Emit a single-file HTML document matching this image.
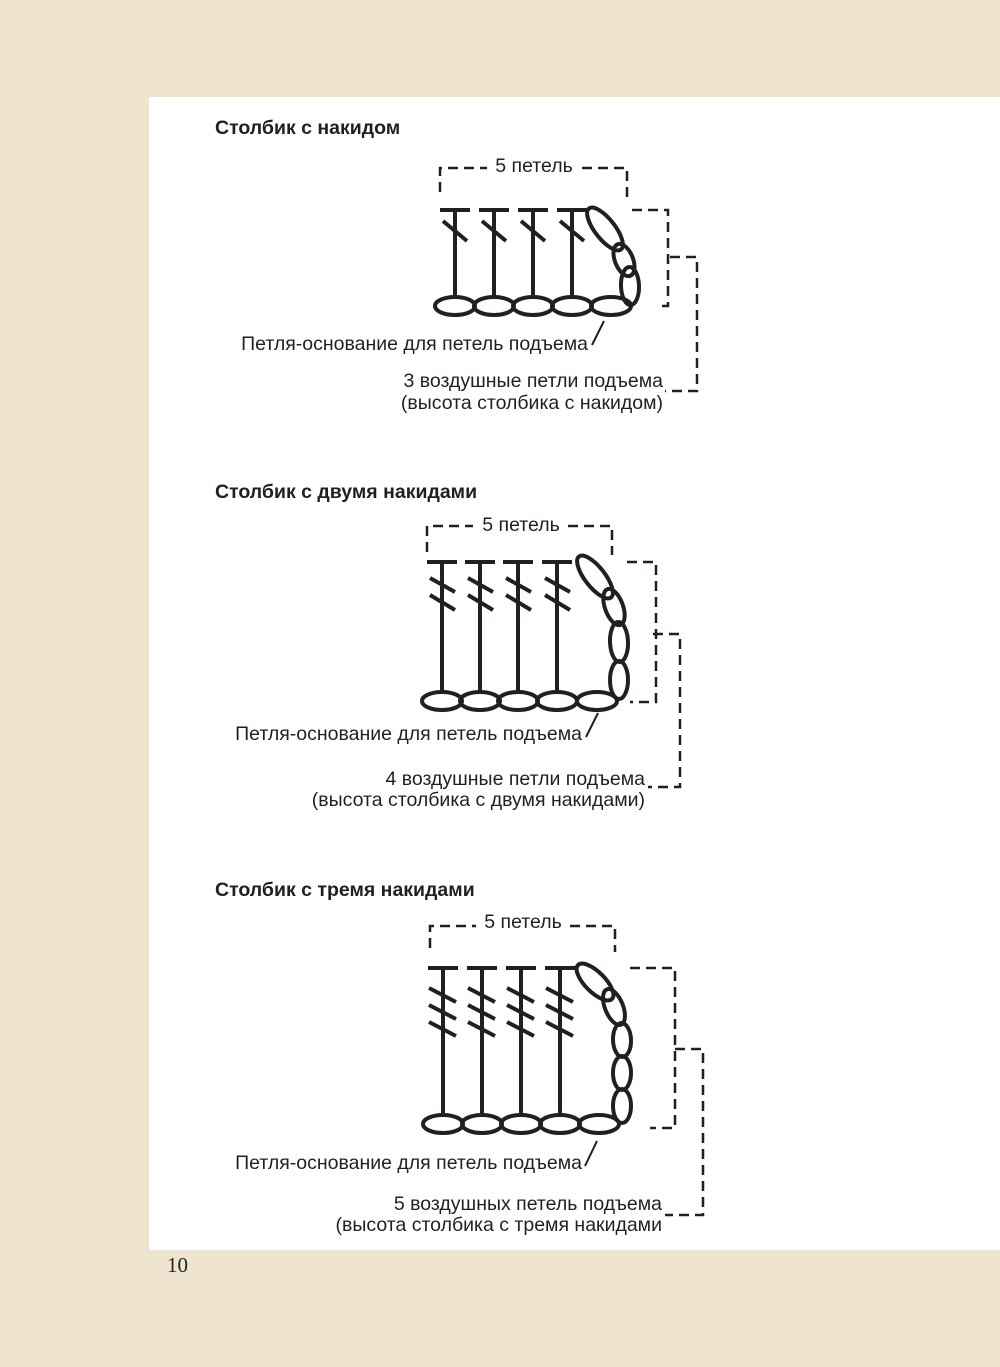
<!DOCTYPE html>
<html><head><meta charset="utf-8"><style>
html,body{margin:0;padding:0;background:#efe4cf;}
svg{display:block}
text{font-family:"Liberation Sans",sans-serif;fill:#231f20}
</style></head><body>
<svg width="1000" height="1367" viewBox="0 0 1000 1367" xmlns="http://www.w3.org/2000/svg">
<rect width="1000" height="1367" fill="#efe4cf"/>
<rect x="149" y="97" width="851" height="1153" fill="#fff"/>
<text x="167" y="1272" font-size="21" style="font-family:'Liberation Serif',serif">10</text>

<g font-size="19.5" font-weight="bold">
<text x="215" y="134">Столбик с накидом</text>
<text x="215" y="498">Столбик с двумя накидами</text>
<text x="215" y="896">Столбик с тремя накидами</text>
</g>

<g stroke="#231f20" fill="none" stroke-width="4">
<!-- Diagram 1 -->
<g>
<ellipse cx="455" cy="306" rx="20" ry="9"/><ellipse cx="494" cy="306" rx="20" ry="9"/><ellipse cx="533" cy="306" rx="20" ry="9"/><ellipse cx="572" cy="306" rx="20" ry="9"/><ellipse cx="611" cy="306" rx="20" ry="9"/>
<path d="M455 297V210M494 297V210M533 297V210M572 297V210"/>
<path d="M440 210H470M479 210H509M518 210H548M557 210H587"/>
<path d="M443 221L467 241M482 221L506 241M521 221L545 241M560 221L584 241"/>
<ellipse cx="605" cy="229" rx="26" ry="10" transform="rotate(52 605 229)"/>
<ellipse cx="624" cy="260" rx="17" ry="9" transform="rotate(68 624 260)"/>
<ellipse cx="630" cy="286" rx="19" ry="9" transform="rotate(88 630 286)"/>
</g>
<!-- Diagram 2 -->
<g>
<ellipse cx="442" cy="701" rx="20" ry="9"/><ellipse cx="480" cy="701" rx="20" ry="9"/><ellipse cx="518" cy="701" rx="20" ry="9"/><ellipse cx="557" cy="701" rx="20" ry="9"/><ellipse cx="597" cy="701" rx="20" ry="9"/>
<path d="M442 692V562M480 692V562M518 692V562M557 692V562"/>
<path d="M427 562H457M465 562H495M503 562H533M542 562H572"/>
<path d="M430 578L455 592M430 595L455 610M468 578L493 592M468 595L493 610M506 578L531 592M506 595L531 610M545 578L570 592M545 595L570 610"/>
<ellipse cx="595" cy="577" rx="26" ry="10" transform="rotate(52 595 577)"/>
<ellipse cx="614" cy="607" rx="19" ry="9" transform="rotate(70 614 607)"/>
<ellipse cx="619" cy="642" rx="20" ry="9" transform="rotate(88 619 642)"/>
<ellipse cx="619" cy="680" rx="19" ry="9" transform="rotate(90 619 680)"/>
</g>
<!-- Diagram 3 -->
<g>
<ellipse cx="443" cy="1124" rx="20" ry="9"/><ellipse cx="482" cy="1124" rx="20" ry="9"/><ellipse cx="521" cy="1124" rx="20" ry="9"/><ellipse cx="560" cy="1124" rx="20" ry="9"/><ellipse cx="599" cy="1124" rx="20" ry="9"/>
<path d="M443 1115V968M482 1115V968M521 1115V968M560 1115V968"/>
<path d="M428 968H458M467 968H497M506 968H536M545 968H575"/>
<path d="M429 988L456 1002M429 1005L456 1019M429 1022L456 1036M468 988L495 1002M468 1005L495 1019M468 1022L495 1036M507 988L534 1002M507 1005L534 1019M507 1022L534 1036M546 988L573 1002M546 1005L573 1019M546 1022L573 1036"/>
<ellipse cx="595" cy="982" rx="24" ry="10" transform="rotate(45 595 982)"/>
<ellipse cx="614" cy="1007" rx="19" ry="9" transform="rotate(68 614 1007)"/>
<ellipse cx="622" cy="1040" rx="17" ry="9" transform="rotate(88 622 1040)"/>
<ellipse cx="622" cy="1073" rx="17" ry="9" transform="rotate(90 622 1073)"/>
<ellipse cx="622" cy="1106" rx="17" ry="9" transform="rotate(90 622 1106)"/>
</g>
</g>

<g stroke="#231f20" fill="none" stroke-width="2.5" stroke-dasharray="10 6">
<path d="M440 192V168H487M582 168H627V197"/>
<path d="M632 210H668V306H660"/>
<path d="M670 257H697V391H665"/>
<path d="M427 552V526H473M568 526H612V555"/>
<path d="M627 562H656V702H630"/>
<path d="M653 634H680V787H648"/>
<path d="M430 948V926H476M570 926H615V952"/>
<path d="M630 968H675V1128H650"/>
<path d="M675 1049H703V1215H665"/>
</g>
<g stroke="#231f20" stroke-width="2">
<path d="M592 345L604 321M586 737L598 713M585 1166L597 1141"/>
</g>

<g font-size="19.5">
<text x="588" y="350" text-anchor="end">Петля-основание для петель подъема</text>
<text x="663" y="387" text-anchor="end">3 воздушные петли подъема</text>
<text x="663" y="409" text-anchor="end">(высота столбика с накидом)</text>
<text x="534" y="172" text-anchor="middle">5 петель</text>

<text x="582" y="740" text-anchor="end">Петля-основание для петель подъема</text>
<text x="645" y="785" text-anchor="end">4 воздушные петли подъема</text>
<text x="645" y="806" text-anchor="end">(высота столбика с двумя накидами)</text>
<text x="521" y="531" text-anchor="middle">5 петель</text>

<text x="582" y="1169" text-anchor="end">Петля-основание для петель подъема</text>
<text x="662" y="1210" text-anchor="end">5 воздушных петель подъема</text>
<text x="662" y="1231" text-anchor="end">(высота столбика с тремя накидами</text>
<text x="523" y="928" text-anchor="middle">5 петель</text>
</g>
</svg>
</body></html>
